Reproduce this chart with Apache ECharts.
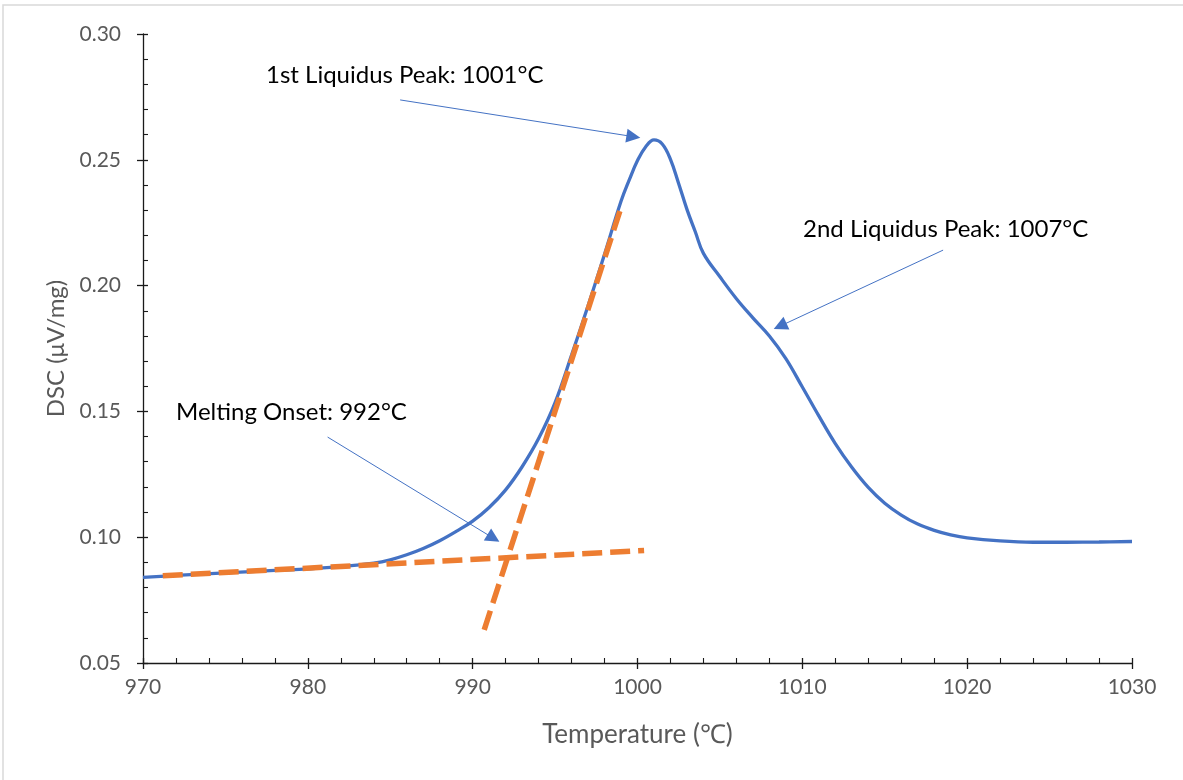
<!DOCTYPE html>
<html>
<head>
<meta charset="utf-8">
<title>DSC Melting Curve</title>
<script src="https://cdn.jsdelivr.net/npm/echarts@6/dist/echarts.min.js"></script>
<style>
  html, body { margin: 0; padding: 0; background: #ffffff; }
  #chart { width: 1183px; height: 780px; }
</style>
</head>
<body>
<div id="chart"></div>
<script>
// DSC heating curve: temperature (°C) and signal (µV/mg)
const temps = [970, 972, 975, 978, 980, 982, 984, 985, 986, 987, 988, 989, 990, 991, 992, 993, 994, 995, 996, 997, 998, 999, 999.5, 1000, 1000.5, 1001, 1001.5, 1002, 1002.5, 1003, 1003.5, 1004, 1005, 1006, 1007, 1008, 1009, 1010, 1011, 1012, 1013, 1014, 1015, 1016, 1017, 1018, 1019, 1020, 1022, 1024, 1026, 1028, 1030];
const dsc = [0.0840, 0.0848, 0.0858, 0.0868, 0.0874, 0.0883, 0.0897, 0.0910, 0.0930, 0.0955, 0.0986, 0.1023, 0.1064, 0.1118, 0.1188, 0.1280, 0.1392, 0.1535, 0.1724, 0.1920, 0.2125, 0.2335, 0.2420, 0.2497, 0.2552, 0.2579, 0.2563, 0.2502, 0.2405, 0.2303, 0.2215, 0.2128, 0.2035, 0.1948, 0.1872, 0.1800, 0.1710, 0.1597, 0.1482, 0.1372, 0.1278, 0.1198, 0.1135, 0.1088, 0.1052, 0.1027, 0.1009, 0.0997, 0.0985, 0.0980, 0.0980, 0.0981, 0.0983];

// Tangent construction for the melting onset
const baselineT = [971.2, 1000.4];
const baselineV = [0.0847, 0.0947];
const leadingEdgeT = [990.7, 999.05];
const leadingEdgeV = [0.0632, 0.2320];

// Callout arrows: [tail temperature, tail signal, head temperature, head signal]
const peak1Arrow = [985.6, 0.2738, 999.75, 0.2592];
const peak2Arrow = [1018.54, 0.2141, 1008.65, 0.1839];
const onsetArrow = [981.2, 0.1398, 991.26, 0.0996];

// Axis ranges
const xRange = [970, 1030, 10];
const yRange = [0.05, 0.30, 0.05];

const calloutTexts = ['1st Liquidus Peak: 1001°C', '2nd Liquidus Peak: 1007°C', 'Melting Onset: 992°C'];

const zip = (a, b) => a.map((v, i) => [v, b[i]]);
const arrow = (p) => [{ coord: [p[0], p[1]] }, { coord: [p[2], p[3]] }];

const BLUE = '#4472C4';
const ORANGE = '#ED7D31';
const AXIS = '#1a1a1a';
const GREY = '#595959';
const FONT = 'Lato, "Open Sans", sans-serif';

const gridRect = { left: 143, top: 34, width: 989, height: 629 };

const chart = echarts.init(document.getElementById('chart'), null, { renderer: 'canvas' });

chart.setOption({
  animation: false,
  backgroundColor: '#ffffff',
  grid: [
    Object.assign({}, gridRect),
    Object.assign({}, gridRect)
  ],
  xAxis: [
    {
      type: 'value', gridIndex: 0,
      min: xRange[0], max: xRange[1], interval: xRange[2],
      name: 'Temperature (℃)', nameLocation: 'middle', nameGap: 59,
      nameTextStyle: { color: GREY, fontSize: 26, fontFamily: FONT },
      axisLine: { show: true, onZero: false, lineStyle: { color: AXIS, width: 1.3 } },
      axisTick: { show: true, inside: false, length: 6, lineStyle: { color: AXIS, width: 1.3 } },
      axisLabel: { color: GREY, fontSize: 21, fontFamily: FONT, margin: 14, formatter: (v) => String(v) },
      splitLine: { show: false }
    },
    {
      type: 'value', gridIndex: 1,
      min: xRange[0], max: xRange[1], interval: xRange[2],
      axisLine: { show: false },
      axisTick: { show: true, inside: true, length: 5, lineStyle: { color: AXIS, width: 1.3 } },
      minorTick: { show: true, splitNumber: 5, length: 5, lineStyle: { color: AXIS, width: 1.1 } },
      axisLabel: { show: false },
      splitLine: { show: false }
    }
  ],
  yAxis: [
    {
      type: 'value', gridIndex: 0,
      min: yRange[0], max: yRange[1], interval: yRange[2],
      name: 'DSC (μV/mg)', nameLocation: 'middle', nameGap: 72,
      nameTextStyle: { color: GREY, fontSize: 24, fontFamily: FONT },
      axisLine: { show: true, onZero: false, lineStyle: { color: AXIS, width: 1.3 } },
      axisTick: { show: true, inside: false, length: 6, lineStyle: { color: AXIS, width: 1.3 } },
      axisLabel: {
        color: GREY, fontSize: 21, fontFamily: FONT, margin: 22,
        formatter: (v) => v.toFixed(2)
      },
      splitLine: { show: false }
    },
    {
      type: 'value', gridIndex: 1,
      min: yRange[0], max: yRange[1], interval: yRange[2],
      axisLine: { show: false },
      axisTick: { show: true, inside: true, length: 5, lineStyle: { color: AXIS, width: 1.3 } },
      minorTick: { show: true, splitNumber: 5, length: 5, lineStyle: { color: AXIS, width: 1.1 } },
      axisLabel: { show: false },
      splitLine: { show: false }
    }
  ],
  series: [
    {
      name: 'DSC',
      type: 'line',
      xAxisIndex: 0, yAxisIndex: 0,
      data: zip(temps, dsc),
      smooth: 0.4,
      showSymbol: false,
      lineStyle: { color: BLUE, width: 3.3 },
      z: 3,
      markLine: {
        silent: true,
        symbol: ['none', 'triangle'],
        symbolSize: 14,
        label: { show: false },
        lineStyle: { color: BLUE, width: 1, type: 'solid' },
        emphasis: { disabled: true },
        data: [arrow(peak1Arrow), arrow(peak2Arrow), arrow(onsetArrow)]
      }
    },
    {
      name: 'Baseline tangent',
      type: 'line',
      xAxisIndex: 0, yAxisIndex: 0,
      data: zip(baselineT, baselineV),
      showSymbol: false,
      lineStyle: { color: ORANGE, width: 5.5, type: [20, 8], cap: 'butt' },
      z: 4
    },
    {
      name: 'Leading-edge tangent',
      type: 'line',
      xAxisIndex: 0, yAxisIndex: 0,
      data: zip(leadingEdgeT, leadingEdgeV),
      showSymbol: false,
      lineStyle: { color: ORANGE, width: 5.5, type: [20, 8], cap: 'butt' },
      z: 4
    }
  ],
  graphic: [
    {
      type: 'rect', silent: true, z: -1,
      shape: { x: 3, y: 5, width: 1300, height: 900 },
      style: { fill: 'none', stroke: '#d9d9d9', lineWidth: 1.5 }
    },
    {
      type: 'text', x: 266, y: 75,
      style: { text: calloutTexts[0], font: '24px ' + FONT, fill: '#000000', verticalAlign: 'middle', align: 'left' }
    },
    {
      type: 'text', x: 803, y: 229,
      style: { text: calloutTexts[1], font: '24px ' + FONT, fill: '#000000', verticalAlign: 'middle', align: 'left' }
    },
    {
      type: 'text', x: 176, y: 412,
      style: { text: calloutTexts[2], font: '24px ' + FONT, fill: '#000000', verticalAlign: 'middle', align: 'left' }
    }
  ]
});
</script>
</body>
</html>
